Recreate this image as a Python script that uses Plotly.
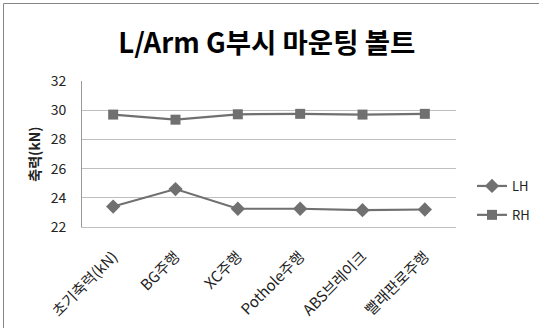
import plotly.graph_objects as go

categories = ["초기축력(kN)", "BG주행", "XC주행", "Pothole주행", "ABS브레이크", "빨래판로주행"]
lh_values = [23.4, 24.6, 23.25, 23.25, 23.15, 23.2]
rh_values = [29.7, 29.35, 29.72, 29.75, 29.7, 29.75]
y_ticks = [22, 24, 26, 28, 30, 32]

FONT = "Noto Sans CJK KR"
LINE_COLOR = "#707070"

fig = go.Figure()
fig.add_trace(go.Scatter(
    x=categories, y=lh_values, name="LH", mode="lines+markers", legendgroup="lh",
    line=dict(color=LINE_COLOR, width=2.2),
    marker=dict(symbol="diamond", size=11, color=LINE_COLOR),
))
fig.add_trace(go.Scatter(
    x=categories, y=rh_values, name="RH", mode="lines+markers", legendgroup="rh",
    line=dict(color=LINE_COLOR, width=2.2),
    marker=dict(symbol="square", size=10, color=LINE_COLOR),
))

L, R, T, B = 82, 83, 81, 101
W, H = 539, 328
pw, ph = W - L - R, H - T - B

def px_x(p):
    return (p - L) / pw

def px_y(p):
    return (H - B - p) / ph

fig.update_layout(
    width=W, height=H,
    margin=dict(l=L, r=R, t=T, b=B, autoexpand=False),
    paper_bgcolor="white", plot_bgcolor="white",
    font=dict(family=FONT, color="#222222", size=12),
    title=dict(text="<b>L/Arm G부시 마운팅 볼트</b>", x=0.495, xanchor="center",
               y=1 - 43 / H, yanchor="middle",
               font=dict(family=FONT, size=27.5, color="#000000")),
    showlegend=True,
    legend=dict(x=px_x(472), y=px_y(171), xanchor="left", yanchor="top",
                font=dict(family=FONT, size=13, color="#222222"),
                bgcolor="rgba(0,0,0,0)", itemwidth=30, tracegroupgap=9),
    xaxis=dict(type="category", range=[-0.5, 5.5], tickangle=-45, automargin=False,
               showgrid=False, showline=True, linecolor="#bfbfbf", linewidth=1,
               ticks="", ticklabelstandoff=14,
               tickfont=dict(family=FONT, size=15, color="#222222")),
    yaxis=dict(range=[22, 32], tickvals=y_ticks, showgrid=True, gridcolor="#bfbfbf",
               gridwidth=1, showline=True, linecolor="#9a9a9a", linewidth=1,
               ticks="", zeroline=False, ticklabelstandoff=12, automargin=False,
               tickfont=dict(family=FONT, size=14, color="#222222"),
               title=dict(text="<b>축력(kN)</b>", standoff=6,
                          font=dict(family=FONT, size=14, color="#222222"))),
    shapes=[
        dict(type="line", xref="paper", yref="paper",
             x0=px_x(3.5), x1=px_x(W), y0=px_y(3.5), y1=px_y(3.5),
             line=dict(color="#868686", width=1)),
        dict(type="line", xref="paper", yref="paper",
             x0=px_x(3.5), x1=px_x(3.5), y0=px_y(3.5), y1=px_y(H),
             line=dict(color="#868686", width=1)),
    ],
)

fig.write_html(
    "out.html",
    post_script="document.documentElement.style.overflow='hidden';document.body.style.overflow='hidden';",
)
